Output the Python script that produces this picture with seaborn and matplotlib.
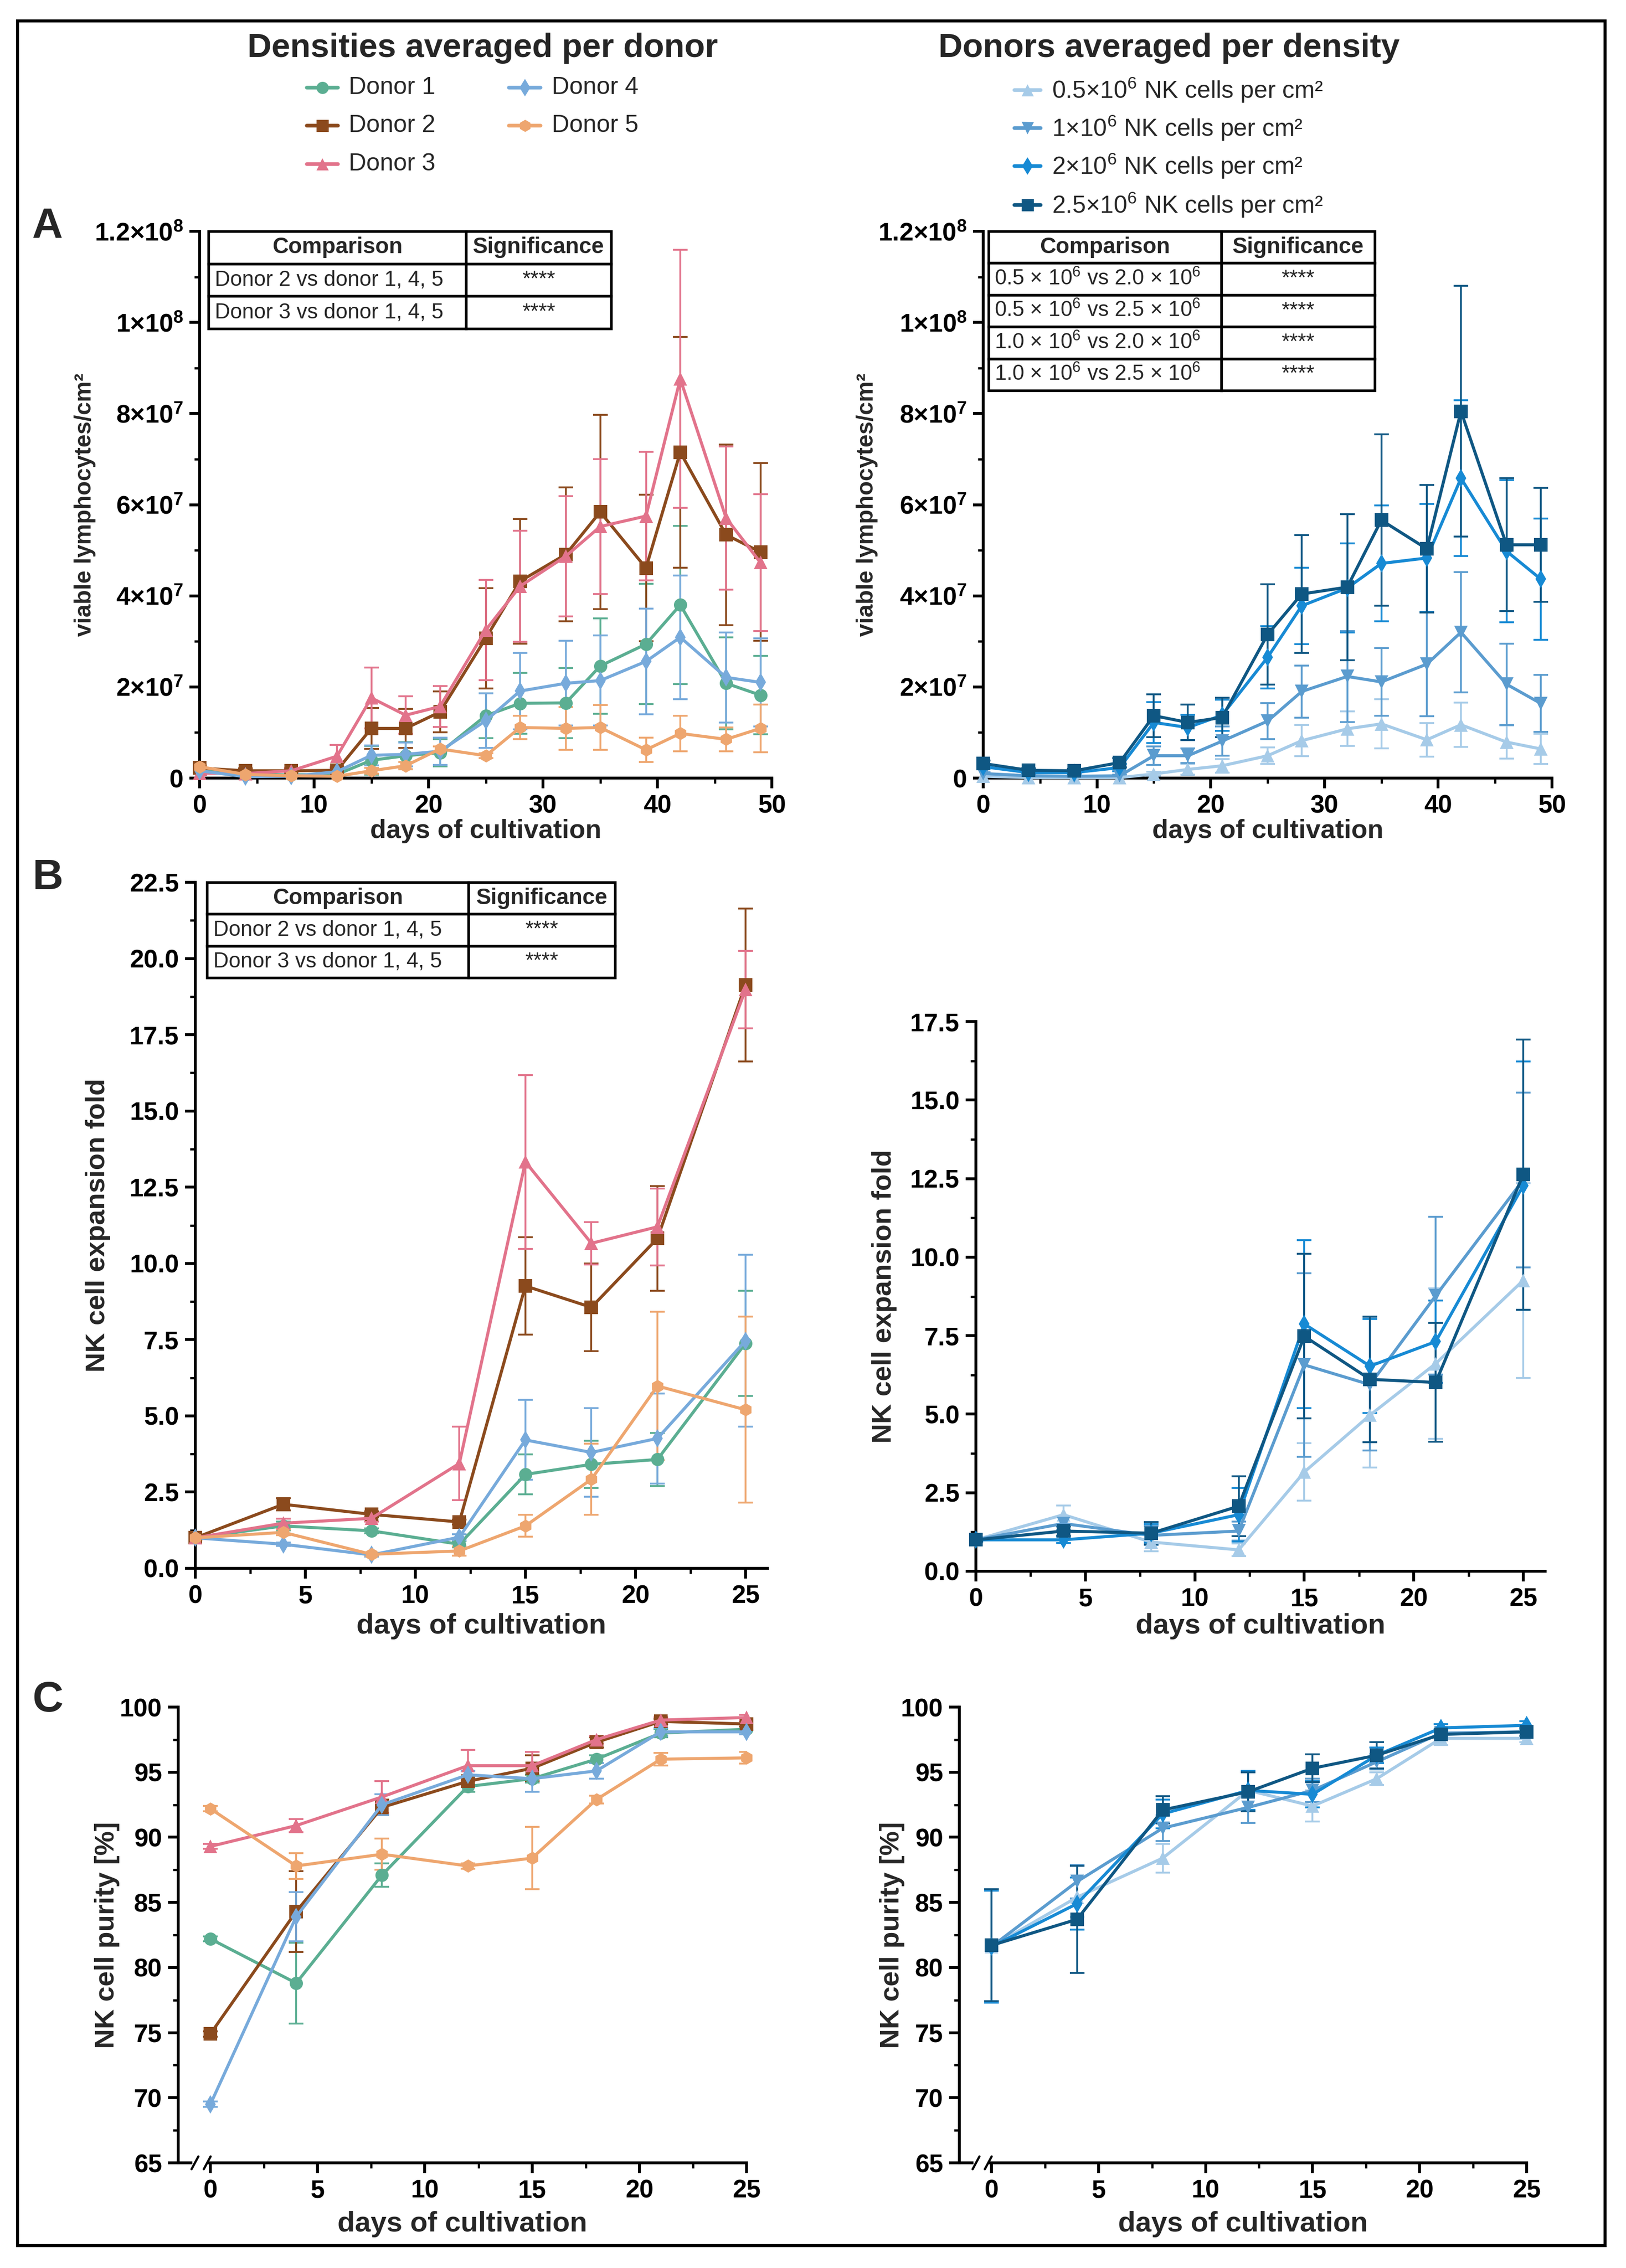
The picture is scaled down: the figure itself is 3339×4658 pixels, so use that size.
import matplotlib
matplotlib.use("Agg")
import matplotlib.pyplot as plt
import numpy as np
import pandas as pd
import seaborn as sns
from matplotlib.lines import Line2D
from matplotlib.patches import Rectangle
from matplotlib.table import Table
from matplotlib.ticker import FuncFormatter, MultipleLocator


sns.set_theme(style="ticks")
plt.rcParams["font.family"] = ["Liberation Sans", "DejaVu Sans"]
plt.rcParams["font.weight"] = "bold"
plt.rcParams["axes.labelweight"] = "bold"
plt.rcParams["mathtext.default"] = "regular"


W, H, DPI = 3339, 4658, 300

# ---------------- data ----------------
DONORS = ["Donor 1", "Donor 2", "Donor 3", "Donor 4", "Donor 5"]
DONOR_COLORS = ["#5bae92", "#8b4a1d", "#e2738b", "#77aadb", "#eea66f"]
DONOR_MARKERS = ["o", "s", "^", "d", "h"]

DENSITIES = ["0.5", "1", "2", "2.5"]
DENSITY_LABELS = [
    "0.5×10$^{6}$ NK cells per cm²",
    "1×10$^{6}$ NK cells per cm²",
    "2×10$^{6}$ NK cells per cm²",
    "2.5×10$^{6}$ NK cells per cm²",
]
DENSITY_COLORS = ["#a6cbe8", "#5b9ccf", "#178ad4", "#0f5783"]
DENSITY_MARKERS = ["^", "v", "d", "s"]

# panel A: viable lymphocytes/cm² (in units of 1e7)
days_a = [0, 4, 8, 12, 15, 18, 21, 25, 28, 32, 35, 39, 42, 46, 49]
donor1_a = [0.22, 0.08, 0.07, 0.08, 0.39, 0.49, 0.56, 1.37, 1.64, 1.65, 2.46, 2.94, 3.80, 2.08, 1.82]
donor1_a_sd = [0.05, 0.03, 0.03, 0.05, 0.32, 0.30, 0.30, 0.49, 0.67, 0.77, 1.05, 1.32, 1.74, 1.01, 0.86]
donor2_a = [0.22, 0.16, 0.16, 0.17, 1.09, 1.09, 1.45, 3.07, 4.32, 4.91, 5.84, 4.61, 7.15, 5.34, 4.96]
donor2_a_sd = [0.05, 0.05, 0.04, 0.05, 0.45, 0.43, 0.45, 1.10, 1.37, 1.47, 2.13, 1.61, 2.53, 1.98, 1.95]
donor3_a = [0.11, 0.10, 0.16, 0.48, 1.76, 1.38, 1.57, 3.25, 4.21, 4.87, 5.52, 5.75, 8.76, 5.71, 4.73]
donor3_a_sd = [0.05, 0.03, 0.05, 0.25, 0.67, 0.41, 0.45, 1.10, 1.22, 1.32, 1.48, 1.41, 2.83, 1.57, 1.50]
donor4_a = [0.16, 0.03, 0.04, 0.14, 0.50, 0.52, 0.59, 1.26, 1.91, 2.08, 2.14, 2.56, 3.09, 2.21, 2.10]
donor4_a_sd = [0.05, 0.02, 0.02, 0.05, 0.22, 0.26, 0.30, 0.60, 0.84, 0.93, 0.99, 1.16, 1.36, 0.99, 0.97]
donor5_a = [0.25, 0.08, 0.05, 0.04, 0.16, 0.27, 0.64, 0.49, 1.11, 1.09, 1.11, 0.62, 0.98, 0.85, 1.09]
donor5_a_sd = [0.03, 0.02, 0.02, 0.02, 0.06, 0.08, 0.05, 0.05, 0.26, 0.47, 0.49, 0.27, 0.39, 0.26, 0.52]

dens05_a = [0.04, 0.01, 0.01, 0.01, 0.09, 0.19, 0.27, 0.49, 0.82, 1.08, 1.19, 0.84, 1.17, 0.79, 0.64]
dens05_a_sd = [0.02, 0.01, 0.01, 0.01, 0.05, 0.12, 0.15, 0.18, 0.34, 0.38, 0.54, 0.37, 0.49, 0.36, 0.33]
dens1_a = [0.10, 0.05, 0.04, 0.05, 0.49, 0.49, 0.81, 1.25, 1.90, 2.23, 2.11, 2.50, 3.20, 2.06, 1.64]
dens1_a_sd = [0.03, 0.02, 0.02, 0.03, 0.20, 0.16, 0.32, 0.40, 0.57, 1.00, 0.74, 1.14, 1.32, 0.89, 0.63]
dens2_a = [0.25, 0.12, 0.12, 0.23, 1.22, 1.11, 1.38, 2.65, 3.78, 4.17, 4.71, 4.83, 6.58, 4.98, 4.37]
dens2_a_sd = [0.05, 0.03, 0.03, 0.08, 0.45, 0.28, 0.34, 0.68, 0.84, 0.98, 1.27, 1.19, 1.71, 1.56, 1.33]
dens25_a = [0.32, 0.17, 0.16, 0.34, 1.37, 1.22, 1.33, 3.15, 4.04, 4.19, 5.66, 5.03, 8.05, 5.12, 5.12]
dens25_a_sd = [0.06, 0.04, 0.04, 0.10, 0.47, 0.39, 0.43, 1.10, 1.29, 1.60, 1.88, 1.40, 2.75, 1.46, 1.25]

# panel B: NK cell expansion fold
days_b = [0, 4, 8, 12, 15, 18, 21, 25]
donor1_b = [1.0, 1.39, 1.23, 0.79, 3.08, 3.41, 3.57, 7.38]
donor1_b_sd = [0.05, 0.15, 0.08, 0.10, 0.65, 0.77, 0.87, 1.72]
donor2_b = [1.0, 2.10, 1.77, 1.52, 9.26, 8.56, 10.82, 19.13]
donor2_b_sd = [0.05, 0.20, 0.10, 0.08, 1.60, 1.44, 1.72, 2.50]
donor3_b = [1.0, 1.48, 1.64, 3.44, 13.33, 10.66, 11.20, 18.98]
donor3_b_sd = [0.05, 0.15, 0.10, 1.20, 2.85, 0.70, 1.26, 1.27]
donor4_b = [1.0, 0.79, 0.44, 1.02, 4.21, 3.80, 4.26, 7.46]
donor4_b_sd = [0.05, 0.05, 0.05, 0.10, 1.31, 1.45, 1.48, 2.82]
donor5_b = [1.0, 1.18, 0.46, 0.57, 1.39, 2.92, 5.98, 5.20]
donor5_b_sd = [0.05, 0.10, 0.05, 0.15, 0.36, 1.17, 2.43, 3.05]

dens05_b = [1.0, 1.80, 0.93, 0.68, 3.16, 4.97, 6.61, 9.26]
dens05_b_sd = [0.05, 0.29, 0.30, 0.20, 0.91, 1.67, 2.39, 3.10]
dens1_b = [1.0, 1.52, 1.14, 1.28, 6.57, 5.94, 8.77, 12.46]
dens1_b_sd = [0.05, 0.20, 0.30, 0.30, 2.92, 2.10, 2.51, 2.78]
dens2_b = [1.0, 1.00, 1.21, 1.80, 7.87, 6.53, 7.31, 12.28]
dens2_b_sd = [0.05, 0.10, 0.30, 0.85, 2.67, 1.50, 1.31, 3.95]
dens25_b = [1.0, 1.28, 1.21, 2.07, 7.48, 6.11, 6.01, 12.63]
dens25_b_sd = [0.05, 0.15, 0.35, 0.95, 2.62, 2.00, 1.89, 4.30]

# panel C: NK cell purity [%]
days_c = [0, 4, 8, 12, 15, 18, 21, 25]
donor1_c = [82.2, 78.8, 87.1, 93.9, 94.5, 96.0, 98.0, 98.3]
donor1_c_sd = [0.2, 3.1, 0.9, 0.4, 0.3, 0.3, 0.3, 0.2]
donor2_c = [74.9, 84.3, 92.3, 94.3, 95.3, 97.3, 98.9, 98.7]
donor2_c_sd = [0.2, 3.1, 0.6, 0.3, 1.0, 0.4, 0.2, 0.2]
donor3_c = [89.3, 90.9, 93.1, 95.5, 95.5, 97.5, 99.0, 99.2]
donor3_c_sd = [0.2, 0.5, 1.2, 1.2, 1.05, 0.3, 0.2, 0.2]
donor4_c = [69.5, 83.9, 92.5, 94.8, 94.5, 95.1, 98.1, 98.1]
donor4_c_sd = [0.2, 1.9, 0.8, 0.3, 1.0, 0.6, 0.3, 0.2]
donor5_c = [92.2, 87.8, 88.7, 87.8, 88.4, 92.9, 96.0, 96.1]
donor5_c_sd = [0.2, 1.0, 1.2, 0.2, 2.4, 0.3, 0.5, 0.45]

dens05_c = [81.6, 85.4, 88.4, 93.6, 92.4, 94.5, 97.6, 97.6]
dens05_c_sd = [4.3, 1.5, 1.1, 1.5, 1.2, 0.5, 0.5, 0.3]
dens1_c = [81.6, 86.6, 90.7, 92.3, 93.6, 95.8, 98.0, 98.1]
dens1_c_sd = [4.3, 1.3, 1.0, 1.2, 0.9, 0.6, 0.3, 0.3]
dens2_c = [81.6, 84.9, 91.8, 93.6, 93.3, 96.3, 98.4, 98.6]
dens2_c_sd = [4.3, 2.0, 1.1, 1.5, 1.0, 0.6, 0.3, 0.3]
dens25_c = [81.7, 83.7, 92.1, 93.5, 95.3, 96.3, 97.9, 98.1]
dens25_c_sd = [4.3, 4.1, 1.05, 1.5, 1.07, 1.0, 0.3, 0.3]

DONOR_TABLE = [
    ("Donor 2 vs donor 1, 4, 5", "****"),
    ("Donor 3 vs donor 1, 4, 5", "****"),
]
DENSITY_TABLE = [
    ("0.5 × 10$^{6}$ vs 2.0 × 10$^{6}$", "****"),
    ("0.5 × 10$^{6}$ vs 2.5 × 10$^{6}$", "****"),
    ("1.0 × 10$^{6}$ vs 2.0 × 10$^{6}$", "****"),
    ("1.0 × 10$^{6}$ vs 2.5 × 10$^{6}$", "****"),
]


def add_axes(fig, left, top, right, bottom):
    """Axes from pixel box of the full picture."""
    return fig.add_axes([left / W, 1 - bottom / H, (right - left) / W, (bottom - top) / H])


def style_axes(ax):
    sns.despine(ax=ax)
    for side in ("left", "bottom"):
        ax.spines[side].set_linewidth(1.4)
        ax.spines[side].set_color("black")
    ax.tick_params(which="major", direction="out", length=5, width=1.4, labelsize=12.5,
                   color="black", labelcolor="black", pad=3)
    ax.tick_params(which="minor", direction="out", length=2.6, width=1.1, color="black")
    ax.grid(False)


def bold_ticks(ax):
    for lab in ax.get_xticklabels() + ax.get_yticklabels():
        lab.set_fontweight("bold")


def long_frame(days, means, sds, names, scale=1.0):
    frames = []
    for name, mean, sd in zip(names, means, sds):
        frames.append(pd.DataFrame({
            "day": days,
            "value": np.asarray(mean) * scale,
            "sd": np.asarray(sd) * scale,
            "group": name,
        }))
    return pd.concat(frames, ignore_index=True)


def plot_groups(ax, df, names, colors, markers, ms=6.5):
    palette = dict(zip(names, colors))
    marker_map = dict(zip(names, markers))
    for name in names:
        sub = df[df["group"] == name]
        ax.errorbar(sub["day"], sub["value"], yerr=sub["sd"], fmt="none",
                    ecolor=palette[name], elinewidth=0.9, capsize=3.5, capthick=0.9, zorder=2)
    sns.lineplot(data=df, x="day", y="value", hue="group", style="group",
                 hue_order=names, style_order=names, palette=palette, markers=marker_map,
                 dashes=False, markersize=ms, markeredgewidth=0, linewidth=1.5,
                 errorbar=None, legend=False, ax=ax, zorder=3, clip_on=False)
    ax.set_xlabel("")
    ax.set_ylabel("")


def sci_label(value, pos):
    if value <= 0:
        return "0" if abs(value) < 1 else ""
    exp = int(np.floor(np.log10(value) + 1e-9))
    mant = round(value / 10 ** exp, 3)
    return f"{mant:g}×10$^{{{exp}}}$"


def draw_table(ax, rows, bbox, split, header_size=11, body_size=10.5):
    table = Table(ax, bbox=bbox)
    n = len(rows) + 1
    h = 1.0 / n
    widths = [split, 1 - split]
    for c, label in enumerate(["Comparison", "Significance"]):
        cell = table.add_cell(0, c, widths[c], h, text=label, loc="center")
        cell.get_text().set_fontsize(header_size)
        cell.get_text().set_fontweight("bold")
    for r, (comp, sig) in enumerate(rows, start=1):
        cell = table.add_cell(r, 0, widths[0], h, text=comp, loc="left")
        cell.PAD = 0.025
        cell.get_text().set_fontsize(body_size)
        cell.get_text().set_fontweight("normal")
        cell = table.add_cell(r, 1, widths[1], h, text=sig, loc="center")
        cell.get_text().set_fontsize(body_size)
        cell.get_text().set_fontweight("normal")
    table.auto_set_font_size(False)
    for cell in table.get_celld().values():
        cell.set_linewidth(1.3)
        cell.set_edgecolor("black")
        cell.set_facecolor("white")
    table.set_zorder(5)
    ax.add_table(table)


def legend_entry(fig, x0, x1, xt, y, color, marker, label, ms=6):
    yf = 1 - y / H
    fig.add_artist(Line2D([x0 / W, (x0 + x1) / 2 / W, x1 / W], [yf, yf, yf],
                          transform=fig.transFigure, color=color, lw=1.8,
                          marker=marker, markevery=[1], ms=ms, mew=0))
    fig.text(xt / W, yf, label, fontsize=12, fontweight="normal", ha="left", va="center")


def axis_break(ax, x_left, stub_end, main_start, slashes):
    ax.spines["bottom"].set_bounds(main_start, 25)
    trans = ax.get_xaxis_transform()
    ax.plot([x_left, stub_end], [0, 0], transform=trans, color="black", lw=1.4,
            clip_on=False, solid_capstyle="butt")
    for xs in slashes:
        ax.plot([xs - 0.16, xs + 0.16], [-0.014, 0.014], transform=trans,
                color="black", lw=1.1, clip_on=False)


def main():
    fig = plt.figure(figsize=(W / DPI, H / DPI), dpi=DPI)

    # outer frame
    fig.add_artist(Rectangle((36 / W, 1 - 4612 / H), (3296 - 36) / W, (4612 - 43) / H,
                             transform=fig.transFigure, fill=False, lw=1.5, edgecolor="black"))

    # column titles
    fig.text(991 / W, 1 - 99 / H, "Densities averaged per donor", fontsize=16.5,
             ha="center", va="center")
    fig.text(2401 / W, 1 - 99 / H, "Donors averaged per density", fontsize=16.5,
             ha="center", va="center")

    # legends
    rows_left = [180, 258, 337]
    for i, (name, color, marker) in enumerate(zip(DONORS, DONOR_COLORS, DONOR_MARKERS)):
        if i < 3:
            legend_entry(fig, 630, 694, 716, rows_left[i], color, marker, name)
        else:
            legend_entry(fig, 1045, 1110, 1133, rows_left[i - 3], color, marker, name)
    rows_right = [185, 263, 341, 421]
    for y, label, color, marker in zip(rows_right, DENSITY_LABELS, DENSITY_COLORS, DENSITY_MARKERS):
        legend_entry(fig, 2083, 2137, 2160, y, color, marker, label)

    # panel letters
    for letter, y in (("A", 466), ("B", 1804), ("C", 3492)):
        fig.text(66 / W, 1 - y / H, letter, fontsize=21, ha="left", va="center")

    # ---- panel A ----
    ax_al = add_axes(fig, 410, 475, 1585, 1598)
    ax_ar = add_axes(fig, 2019, 475, 3187, 1598)
    df_al = long_frame(days_a, [donor1_a, donor2_a, donor3_a, donor4_a, donor5_a],
                       [donor1_a_sd, donor2_a_sd, donor3_a_sd, donor4_a_sd, donor5_a_sd],
                       DONORS, scale=1e7)
    df_ar = long_frame(days_a, [dens05_a, dens1_a, dens2_a, dens25_a],
                       [dens05_a_sd, dens1_a_sd, dens2_a_sd, dens25_a_sd],
                       DENSITIES, scale=1e7)
    plot_groups(ax_al, df_al, DONORS, DONOR_COLORS, DONOR_MARKERS)
    plot_groups(ax_ar, df_ar, DENSITIES, DENSITY_COLORS, DENSITY_MARKERS)
    for ax, xl in ((ax_al, -0.181), (ax_ar, -0.185)):
        style_axes(ax)
        ax.set_xlim(0, 50)
        ax.set_ylim(0, 1.2e8)
        ax.xaxis.set_major_locator(MultipleLocator(10))
        ax.xaxis.set_minor_locator(MultipleLocator(5))
        ax.set_yticks(np.arange(0, 1.21e8, 2e7))
        ax.set_yticks(np.arange(1e7, 1.2e8, 2e7), minor=True)
        ax.yaxis.set_major_formatter(FuncFormatter(sci_label))
        ax.set_ylabel("viable lymphocytes/cm²", fontsize=11.5)
        ax.yaxis.set_label_coords(xl, 0.5)
        ax.set_xlabel("days of cultivation", fontsize=13)
        ax.xaxis.set_label_coords(0.5, -0.075)
        bold_ticks(ax)
    draw_table(ax_al, DONOR_TABLE, [0.0153, 0.8219, 0.7038, 0.1781], 0.64)
    draw_table(ax_ar, DENSITY_TABLE, [0.0094, 0.7088, 0.679, 0.2912], 0.603)

    # ---- panel B ----
    ax_bl = add_axes(fig, 401, 1812, 1576, 3221)
    ax_br = add_axes(fig, 2004, 2098, 3173, 3227)
    df_bl = long_frame(days_b, [donor1_b, donor2_b, donor3_b, donor4_b, donor5_b],
                       [donor1_b_sd, donor2_b_sd, donor3_b_sd, donor4_b_sd, donor5_b_sd], DONORS)
    df_br = long_frame(days_b, [dens05_b, dens1_b, dens2_b, dens25_b],
                       [dens05_b_sd, dens1_b_sd, dens2_b_sd, dens25_b_sd], DENSITIES)
    plot_groups(ax_bl, df_bl, DONORS, DONOR_COLORS, DONOR_MARKERS)
    plot_groups(ax_br, df_br, DENSITIES, DENSITY_COLORS, DENSITY_MARKERS)
    for ax, top, xl, yl in ((ax_bl, 22.5, -0.148, -0.065), (ax_br, 17.5, -0.139, -0.076)):
        style_axes(ax)
        ax.set_xlim(0, 26)
        ax.set_ylim(0, top)
        ax.set_xticks([0, 5, 10, 15, 20, 25])
        ax.set_xticks([2.5, 7.5, 12.5, 17.5, 22.5], minor=True)
        ax.set_yticks(np.arange(0, top + 0.01, 2.5))
        ax.set_yticks(np.arange(1.25, top, 2.5), minor=True)
        ax.yaxis.set_major_formatter(FuncFormatter(lambda v, p: f"{v:.1f}"))
        ax.set_ylabel("NK cell expansion fold", fontsize=13.5)
        ax.yaxis.set_label_coords(xl, 0.5)
        ax.set_xlabel("days of cultivation", fontsize=14)
        ax.xaxis.set_label_coords(0.5, yl)
        bold_ticks(ax)
    draw_table(ax_bl, DONOR_TABLE, [0.0204, 0.8609, 0.7132, 0.1391], 0.641)

    # ---- panel C ----
    ax_cl = add_axes(fig, 366, 3506, 1533, 4442)
    ax_cr = add_axes(fig, 1970, 3506, 3135, 4442)
    df_cl = long_frame(days_c, [donor1_c, donor2_c, donor3_c, donor4_c, donor5_c],
                       [donor1_c_sd, donor2_c_sd, donor3_c_sd, donor4_c_sd, donor5_c_sd], DONORS)
    df_cr = long_frame(days_c, [dens05_c, dens1_c, dens2_c, dens25_c],
                       [dens05_c_sd, dens1_c_sd, dens2_c_sd, dens25_c_sd], DENSITIES)
    plot_groups(ax_cl, df_cl, DONORS, DONOR_COLORS, DONOR_MARKERS)
    plot_groups(ax_cr, df_cr, DENSITIES, DENSITY_COLORS, DENSITY_MARKERS)
    for ax, xl in ((ax_cl, -0.103), (ax_cr, -0.096)):
        style_axes(ax)
        ax.set_xlim(-1.5, 25)
        ax.set_ylim(65, 100)
        ax.set_xticks([0, 5, 10, 15, 20, 25])
        ax.set_xticks([2.5, 7.5, 12.5, 17.5, 22.5], minor=True)
        ax.set_yticks(np.arange(65, 100.1, 5))
        ax.set_yticks(np.arange(67.5, 100, 5), minor=True)
        ax.set_ylabel("NK cell purity [%]", fontsize=13.5)
        ax.yaxis.set_label_coords(xl, 0.5)
        ax.set_xlabel("days of cultivation", fontsize=14)
        ax.xaxis.set_label_coords(0.5, -0.106)
        axis_break(ax, -1.5, -0.85, -0.05, [-0.72, -0.15])
        bold_ticks(ax)

    fig.savefig("out.png", dpi=DPI)


if __name__ == "__main__":
    main()
